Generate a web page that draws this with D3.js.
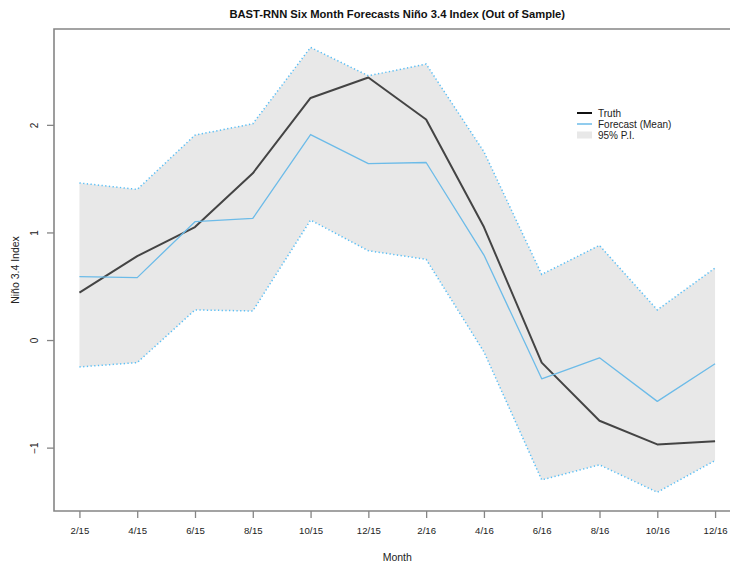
<!DOCTYPE html>
<html>
<head>
<meta charset="utf-8">
<script src="https://cdn.jsdelivr.net/npm/d3@7"></script>
<style>
  html, body { margin: 0; padding: 0; background: #fff; }
  svg { display: block; font-family: "Liberation Sans", Arial, Helvetica, sans-serif; }
</style>
</head>
<body>
<svg id="chart" width="730" height="563"></svg>
<script>
// Bi-monthly forecast months
const months = ["2/15", "4/15", "6/15", "8/15", "10/15", "12/15",
                "2/16", "4/16", "6/16", "8/16", "10/16", "12/16"];
// Observed Niño 3.4 index
const truth = [0.44, 0.78, 1.05, 1.55, 2.25, 2.44, 2.05, 1.05, -0.21, -0.75, -0.97, -0.94];
// Forecast mean
const forecast = [0.59, 0.58, 1.10, 1.13, 1.91, 1.64, 1.65, 0.79, -0.36, -0.165, -0.57, -0.22];
// 95% prediction interval bounds
const upper = [1.46, 1.40, 1.905, 2.01, 2.72, 2.456, 2.565, 1.75, 0.61, 0.88, 0.28, 0.67];
const lower = [-0.25, -0.21, 0.28, 0.27, 1.115, 0.83, 0.75, -0.11, -1.30, -1.16, -1.415, -1.12];
const yTicks = [-1, 0, 1, 2];

const svg = d3.select("#chart");
const W = 730, H = 563;

// Plot region (right side runs past the canvas edge)
const plotLeft = 54, plotRight = 740.5, plotTop = 29, plotBottom = 511;

const x = d3.scaleLinear().domain([-0.44, 11.44]).range([plotLeft, plotRight]);
const y = d3.scaleLinear().domain([-1.589, 2.891]).range([plotBottom, plotTop]);

const idx = months.map((_, i) => i);

// Prediction interval band
const area = d3.area()
  .x(i => x(i))
  .y0(i => y(lower[i]))
  .y1(i => y(upper[i]));
svg.append("path")
  .datum(idx)
  .attr("d", area)
  .attr("fill", "#e8e8e8")
  .attr("stroke", "none");

// Dotted interval bounds
const boundLine = arr => d3.line().x(i => x(i)).y(i => y(arr[i]));
[upper, lower].forEach(arr => {
  svg.append("path")
    .datum(idx)
    .attr("d", boundLine(arr))
    .attr("fill", "none")
    .attr("stroke", "#5bbff5")
    .attr("stroke-width", 1.5)
    .attr("stroke-dasharray", "1.3,2.4");
});

// Observed values
svg.append("path")
  .datum(idx)
  .attr("d", d3.line().x(i => x(i)).y(i => y(truth[i])))
  .attr("fill", "none")
  .attr("stroke", "#444444")
  .attr("stroke-width", 2)
  .attr("stroke-linejoin", "round");

// Forecast mean
svg.append("path")
  .datum(idx)
  .attr("d", d3.line().x(i => x(i)).y(i => y(forecast[i])))
  .attr("fill", "none")
  .attr("stroke", "#6cbbe8")
  .attr("stroke-width", 1.3)
  .attr("stroke-linejoin", "round");

// Frame: left, top, bottom
const frameColor = "#858585";
svg.append("path")
  .attr("d", `M${W},${plotTop}H${plotLeft}V${plotBottom}H${W}`)
  .attr("fill", "none")
  .attr("stroke", frameColor)
  .attr("stroke-width", 1.6);

// X axis
const xAxis = svg.append("g")
  .attr("transform", `translate(0,${plotBottom})`)
  .call(d3.axisBottom(x).tickValues(idx).tickFormat(i => months[i]).tickSize(7).tickPadding(9));
xAxis.select(".domain").remove();
xAxis.selectAll(".tick line").attr("stroke", frameColor).attr("stroke-width", 1.3);
xAxis.selectAll(".tick text")
  .attr("fill", "#222")
  .style("font-size", "9.6px")
  .style("font-family", "'Liberation Sans', Arial, sans-serif");

// Y axis with vertical labels
const yAxis = svg.append("g")
  .attr("transform", `translate(${plotLeft},0)`)
  .call(d3.axisLeft(y).tickValues(yTicks).tickFormat(d3.format("d")).tickSize(7));
yAxis.select(".domain").remove();
yAxis.selectAll(".tick line").attr("stroke", frameColor).attr("stroke-width", 1.3);
yAxis.selectAll(".tick text")
  .attr("x", null).attr("dy", null)
  .attr("text-anchor", "middle")
  .attr("transform", "translate(-16,0) rotate(-90)")
  .attr("fill", "#222")
  .style("font-size", "10px")
  .style("font-family", "'Liberation Sans', Arial, sans-serif");

// Titles
const cx = (plotLeft + plotRight) / 2;
svg.append("text")
  .attr("x", cx).attr("y", 18)
  .attr("text-anchor", "middle")
  .attr("font-weight", "bold")
  .attr("font-size", 11.2)
  .attr("fill", "#111")
  .text("BAST-RNN Six Month Forecasts Niño 3.4 Index (Out of Sample)");

svg.append("text")
  .attr("x", cx).attr("y", 561)
  .attr("text-anchor", "middle")
  .attr("font-size", 10.5)
  .attr("fill", "#222")
  .text("Month");

svg.append("text")
  .attr("transform", `translate(19,${(plotTop + plotBottom) / 2}) rotate(-90)`)
  .attr("text-anchor", "middle")
  .attr("font-size", 10.5)
  .attr("fill", "#222")
  .text("Niño 3.4 Index");

// Legend
const legend = svg.append("g").attr("transform", "translate(577,113)");
const items = [
  { label: "Truth", type: "line", color: "#111", width: 2 },
  { label: "Forecast (Mean)", type: "line", color: "#6cbbe8", width: 1.5 },
  { label: "95% P.I.", type: "box", color: "#e8e8e8" }
];
items.forEach((d, i) => {
  const g = legend.append("g").attr("transform", `translate(0,${i * 11})`);
  if (d.type === "line") {
    g.append("line").attr("x1", 0).attr("x2", 15).attr("y1", 0).attr("y2", 0)
      .attr("stroke", d.color).attr("stroke-width", d.width);
  } else {
    g.append("rect").attr("x", 0).attr("y", -3.5).attr("width", 15).attr("height", 7)
      .attr("fill", d.color);
  }
  g.append("text").attr("x", 21).attr("y", 0).attr("dy", "0.35em")
    .attr("font-size", 10).attr("fill", "#222").text(d.label);
});
</script>
</body>
</html>
